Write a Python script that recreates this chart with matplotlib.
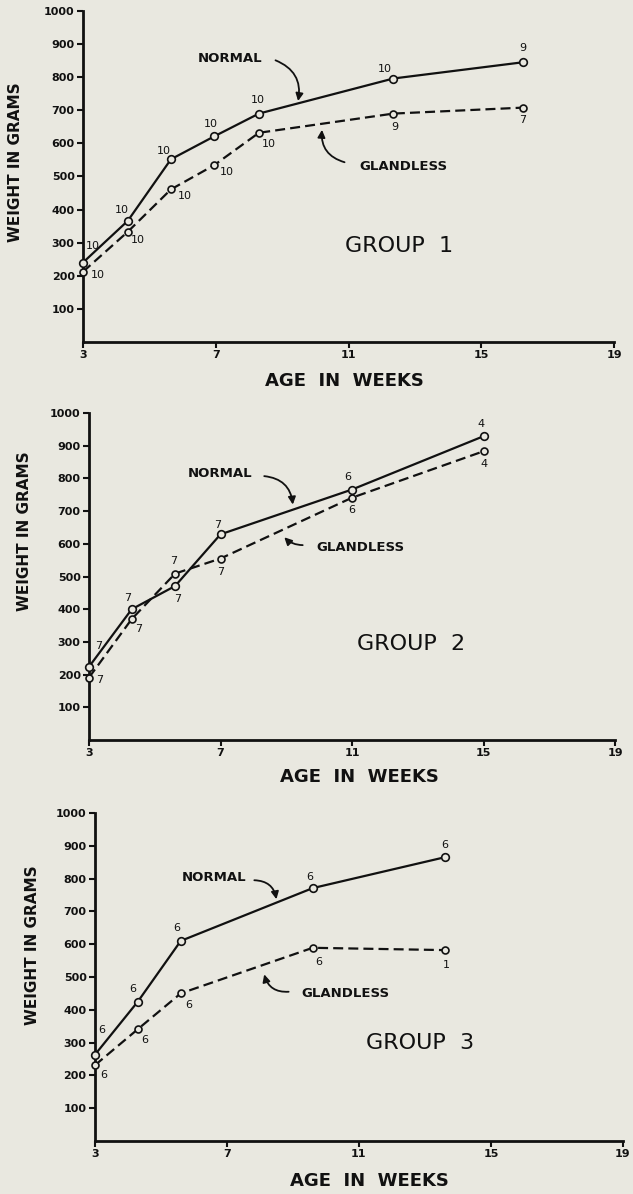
import matplotlib
matplotlib.use("Agg")
import matplotlib.pyplot as plt

# ---------------- data ----------------
g1_weeks = [3, 4.35, 5.65, 6.95, 8.3, 12.35, 16.25]
g1_normal = [240, 366, 552, 621, 690, 796, 845]
g1_glandless = [212, 333, 461, 534, 632, 690, 708]
g1_n_normal = [10, 10, 10, 10, 10, 10, 9]
g1_n_glandless = [10, 10, 10, 10, 10, 9, 7]

g2_weeks = [3, 4.3, 5.62, 7, 11, 15]
g2_normal = [224, 400, 471, 629, 766, 929]
g2_glandless = [191, 370, 509, 555, 741, 883]
g2_n_normal = [7, 7, 7, 7, 6, 4]
g2_n_glandless = [7, 7, 7, 7, 6, 4]

g3_weeks = [3, 4.3, 5.6, 9.6, 13.6]
g3_normal = [263, 425, 610, 771, 865]
g3_glandless = [231, 341, 450, 589, 582]
g3_n_normal = [6, 6, 6, 6, 6]
g3_n_glandless = [6, 6, 6, 6, 1]

group_names = ["GROUP  1", "GROUP  2", "GROUP  3"]
x_ticks = [3, 7, 11, 15, 19]
y_ticks = [100, 200, 300, 400, 500, 600, 700, 800, 900, 1000]

# ---------------- layout / style ----------------
BG = "#e9e8e0"
INK = "#111111"

fig = plt.figure(figsize=(6.33, 11.94), dpi=100, facecolor=BG)

axes_rects = [
    [0.1311, 0.7136, 0.839, 0.2772],
    [0.1406, 0.3802, 0.831, 0.2739],
    [0.1500, 0.0444, 0.834, 0.2747],
]
ylabel_pos = [(-0.128, 0.542), (-0.122, 0.639), (-0.119, 0.598)]
xlabel_pos = [(0.493, -0.118), (0.515, -0.113), (0.519, -0.122)]

# count-label offsets in points (normal / glandless)
off_norm = [
    [(7, 12), (-4, 8), (-5, 6), (-2, 9), (-1, 10), (-6, 7), (0, 10)],
    [(7, 15), (-3, 8), (2, -9), (-2, 7), (-3, 9), (-2, 9)],
    [(5, 18), (-4, 9), (-3, 9), (-2, 8), (0, 9)],
]
off_gland = [
    [(11, -2), (7, -6), (10, -5), (9, -5), (7, -8), (1, -10), (0, -9)],
    [(8, -2), (5, -7), (-1, 9), (0, -10), (0, -9), (0, -9)],
    [(6, -7), (5, -8), (6, -8), (4, -10), (1, -11)],
]

# annotation positions (data coords)
normal_text = [(7.42, 856), (7.0, 814), (6.6, 802)]
normal_arrow = [((8.8, 851), (9.48, 728)), ((8.33, 807), (9.2, 720)), ((7.83, 795), (8.5, 737))]
gland_text = [(12.65, 531), (11.25, 588), (10.6, 450)]
gland_arrow = [((10.88, 543), (10.2, 641)), ((9.5, 596), (8.94, 620)), ((8.87, 455), (8.13, 508))]
group_pos = [(12.53, 290), (12.8, 293), (12.86, 299)]

groups = [
    (g1_weeks, g1_normal, g1_glandless, g1_n_normal, g1_n_glandless),
    (g2_weeks, g2_normal, g2_glandless, g2_n_normal, g2_n_glandless),
    (g3_weeks, g3_normal, g3_glandless, g3_n_normal, g3_n_glandless),
]

for i, (weeks, norm, gland, nn, ng) in enumerate(groups):
    ax = fig.add_axes(axes_rects[i])
    ax.set_facecolor(BG)
    ax.set_xlim(3, 19)
    ax.set_ylim(0, 1000)
    for s in ["top", "right"]:
        ax.spines[s].set_visible(False)
    for s in ["left", "bottom"]:
        ax.spines[s].set_linewidth(2.0)
        ax.spines[s].set_color(INK)
    ax.set_xticks(x_ticks)
    ax.set_xticklabels([str(t) for t in x_ticks], fontsize=8, fontweight="bold", color=INK)
    ax.set_yticks(y_ticks)
    ax.set_yticklabels([str(t) for t in y_ticks], fontsize=8, fontweight="bold", color=INK)
    ax.tick_params(axis="both", direction="out", length=4, width=1.5, color=INK, pad=2)

    ax.plot(weeks, norm, color=INK, lw=1.6, marker="o", ms=5.5, mfc=BG, mec=INK,
            mew=1.2, clip_on=False, zorder=3)
    ax.plot(weeks, gland, color=INK, lw=1.6, ls=(0, (4.5, 2.3)), marker="o", ms=5,
            mfc=BG, mec=INK, mew=1.2, clip_on=False, zorder=3)

    for x, y, n, off in zip(weeks, norm, nn, off_norm[i]):
        ax.annotate(str(n), (x, y), xytext=off, textcoords="offset points",
                    ha="center", va="center", fontsize=8, color=INK)
    for x, y, n, off in zip(weeks, gland, ng, off_gland[i]):
        ax.annotate(str(n), (x, y), xytext=off, textcoords="offset points",
                    ha="center", va="center", fontsize=8, color=INK)

    ax.text(*normal_text[i], "NORMAL", ha="center", va="center", fontsize=9.5,
            fontweight="bold", color=INK)
    (sx, sy), (ex, ey) = normal_arrow[i]
    ax.annotate("", xy=(ex, ey), xytext=(sx, sy),
                arrowprops=dict(arrowstyle="-|>", color=INK, lw=1.3, mutation_scale=11,
                                connectionstyle="arc3,rad=-0.4", shrinkA=0, shrinkB=0))
    ax.text(*gland_text[i], "GLANDLESS", ha="center", va="center", fontsize=9.5,
            fontweight="bold", color=INK)
    (sx, sy), (ex, ey) = gland_arrow[i]
    ax.annotate("", xy=(ex, ey), xytext=(sx, sy),
                arrowprops=dict(arrowstyle="-|>", color=INK, lw=1.3, mutation_scale=11,
                                connectionstyle="arc3,rad=-0.4" if i != 1 else "arc3,rad=-0.2",
                                shrinkA=0, shrinkB=0))
    ax.text(*group_pos[i], group_names[i], ha="center", va="center", fontsize=16, color=INK)

    ax.set_ylabel("WEIGHT IN GRAMS", fontsize=11, fontweight="bold", color=INK,
                  va="center", ha="center")
    ax.yaxis.set_label_coords(*ylabel_pos[i])
    ax.set_xlabel("AGE  IN  WEEKS", fontsize=13, fontweight="bold", color=INK,
                  va="center", ha="center")
    ax.xaxis.set_label_coords(*xlabel_pos[i])

fig.savefig("out.png", dpi=100, facecolor=BG)
